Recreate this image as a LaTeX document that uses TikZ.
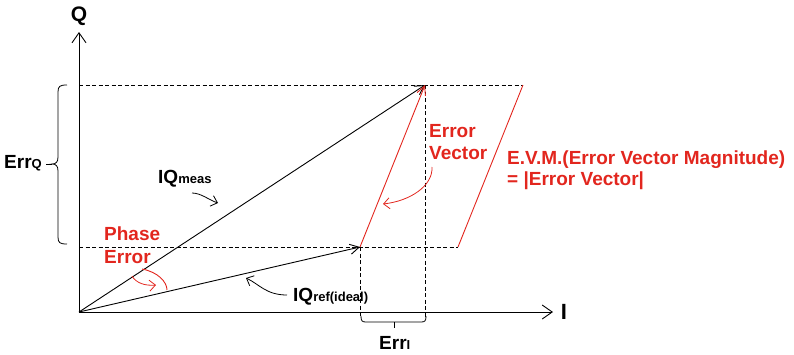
\documentclass[tikz,border=0pt]{standalone}
\usepackage{fontspec}
\setmainfont{Liberation Sans}
\usetikzlibrary{arrows.meta}
\definecolor{evmred}{RGB}{226,38,30}
\tikzset{
  x=1pt,y=-1pt,
  axis/.style={line width=0.9pt,-{Straight Barb[length=10pt,width=14pt,line width=0.9pt]}},
  vec/.style={line width=0.9pt,-{Straight Barb[length=9pt,width=10pt,line width=0.9pt]}},
  redvec/.style={evmred,line width=0.9pt,-{Straight Barb[length=9pt,width=9pt,line width=0.9pt]}},
  pointer/.style={line width=0.8pt,-{Straight Barb[length=6pt,width=11pt,line width=0.8pt]}},
  redpointer/.style={evmred,line width=0.8pt,-{Straight Barb[length=6pt,width=11pt,line width=0.8pt]}},
  guide/.style={line width=0.8pt,dash pattern=on 4pt off 2.5pt},
  redline/.style={evmred,line width=0.9pt},
  lbl/.style={font=\bfseries\fontsize{19}{22}\selectfont,inner sep=0pt,anchor=base west},
  redlbl/.style={lbl,text=evmred},
}
\newcommand{\smallsub}[1]{{\fontsize{13}{14}\selectfont #1}}
\begin{document}
\begin{tikzpicture}
\useasboundingbox (0,0) rectangle (794,354);
% key points
\coordinate (O) at (79,312);
\coordinate (Qtop) at (79,32);
\coordinate (Iend) at (553,312);
\coordinate (M) at (425,85);
\coordinate (R) at (360,247);
\coordinate (Mx) at (523,85);
\coordinate (Rx) at (458,247);
\coordinate (Ml) at (79,85);
\coordinate (Rl) at (79,247);
\coordinate (Rb) at (360,318);
\coordinate (Mb) at (425,318);
% axes
\draw[axis] (O) -- (Qtop);
\draw[axis] (O) -- (Iend);
\node[font=\bfseries\fontsize{21}{24}\selectfont,inner sep=0pt,anchor=base] (qlab) at (79,21) {Q};
\node[font=\bfseries\fontsize{22}{24}\selectfont,inner sep=0pt,anchor=base] (ilab) at (564,319) {I};
% dashed guides
\draw[guide] (Ml) -- (Mx);
\draw[guide] (Rl) -- (Rx);
\draw[guide] (R) -- (Rb);
\draw[guide] (M) -- (Mb);
% parallelogram side
\draw[redline] (Mx) -- (Rx);
% vectors
\draw[vec] (O) -- (M);
\draw[vec] (O) -- (R);
\draw[redvec] (R) -- (M);
% ErrQ brace
\draw[line width=0.8pt] (67,85) .. controls (60,85) and (58,86) .. (58,92) -- (58,157)
  .. controls (58,162) and (56,164) .. (52,164)
  .. controls (56,164) and (58,166) .. (58,171) -- (58,237)
  .. controls (58,243) and (60,244) .. (67,244);
\draw[line width=0.8pt] (52,164) -- (46,164);
\node[lbl] (errq) at (4,168) {Err\smallsub{Q}};
% ErrI brace
\draw[line width=0.8pt] (361,316) .. controls (361,321) and (362,322) .. (366,322) -- (421,322)
  .. controls (425,322) and (426,321) .. (426,316);
\draw[line width=0.8pt] (394,322) -- (394,328);
\node[lbl] (erri) at (379,349) {Err\smallsub{I}};
% IQmeas
\node[lbl] (iqm) at (158,183) {IQ\smallsub{meas}};
\coordinate (iqmA) at (192,193);
\coordinate (iqmB) at (218,203);
\draw[pointer] (iqmA) .. controls (201,193) and (209,200) .. (iqmB);
% IQref
\node[lbl] (iqr) at (293,301) {IQ\smallsub{ref(ideal)}};
\coordinate (iqrA) at (287,295);
\coordinate (iqrB) at (246,278);
\draw[pointer] (iqrA) .. controls (266,295) and (259,284) .. (iqrB);
% phase error
\node[redlbl] (ph1) at (104,240) {Phase};
\node[redlbl] (ph2) at (104,263) {Error};
\draw[redline] (142,269) .. controls (158,272) and (167,282) .. (167,290);
\coordinate (phA) at (132,276);
\coordinate (phB) at (156,285);
\draw[redpointer] (phA) .. controls (136,283) and (145,286) .. (phB);
% error vector label
\node[redlbl] (ev1) at (429,137) {Error};
\node[redlbl] (ev2) at (429,159) {Vector};
\coordinate (evA) at (432,167);
\coordinate (evB) at (383,204);
\draw[redpointer] (evA) .. controls (433,186) and (410,201) .. (evB);
% EVM
\node[redlbl] (evm1) at (507,164) {E.V.M.(Error Vector Magnitude)};
\node[redlbl] (evm2) at (507,185) {= |Error Vector|};
\end{tikzpicture}
\end{document}
